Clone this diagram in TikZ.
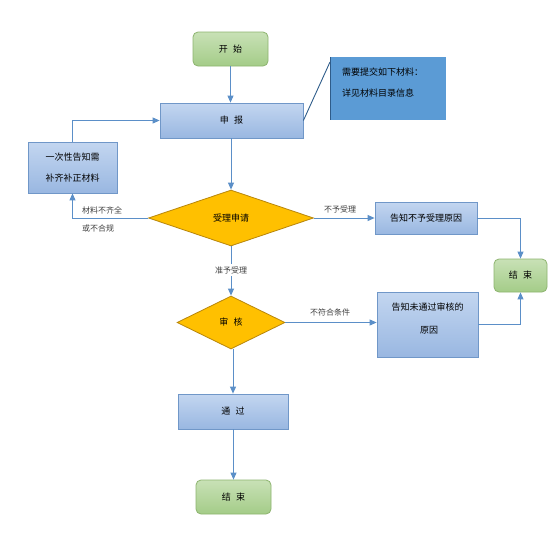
\documentclass[tikz,border=0pt]{standalone}
\usepackage{fontspec}
\setmainfont{Noto Sans CJK SC}
\usetikzlibrary{shapes.geometric,arrows.meta,calc}
\definecolor{bluetop}{HTML}{C3D6F0}
\definecolor{bluebot}{HTML}{99B7E1}
\definecolor{blueedge}{HTML}{7097C8}
\definecolor{greentop}{HTML}{C8E1B6}
\definecolor{greenbot}{HTML}{A4CC88}
\definecolor{greenedge}{HTML}{8DB46F}
\definecolor{gold}{HTML}{FFC000}
\definecolor{goldedge}{HTML}{B8860B}
\definecolor{calloutfill}{HTML}{5B9BD5}
\definecolor{calloutedge}{HTML}{2E5C8A}
\definecolor{arrowc}{HTML}{5B8FC8}
\definecolor{labelc}{HTML}{404040}
\tikzset{
  x=1pt, y=-1pt,
  every node/.style={font=\fontsize{9}{11}\selectfont, inner sep=0pt},
  bluebox/.style={draw=blueedge, line width=0.8pt, top color=bluetop, bottom color=bluebot, align=center},
  greenbox/.style={draw=greenedge, line width=0.8pt, top color=greentop, bottom color=greenbot, rounded corners=5pt, align=center},
  decision/.style={diamond, draw=goldedge, line width=0.8pt, fill=gold, aspect=3},
  flow/.style={draw=arrowc, line width=0.9pt, -{Triangle[length=7pt,width=6pt]}},
  lbl/.style={font=\fontsize{8}{10}\selectfont, text=labelc},
}
\begin{document}
\begin{tikzpicture}
\useasboundingbox (0,0) rectangle (555,544);
\fill[white] (0,0) rectangle (555,544);

\node[greenbox, minimum width=75pt, minimum height=34pt] (start) at (230.5,49) {开\hspace{0.6em}始};
\node[bluebox, minimum width=143pt, minimum height=35pt] (apply) at (231.5,120.5) {申\hspace{0.6em}报};
\node[fill=calloutfill, minimum width=116pt, minimum height=63pt, anchor=north west] (callout) at (330,57) {};
\draw[calloutedge, line width=1pt] (callout.north west) -- (callout.south west);
\node[anchor=west] (ctext1) at (342,72) {需要提交如下材料：};
\node[anchor=west] (ctext2) at (342,93) {详见材料目录信息};
\draw[calloutedge, line width=0.9pt] (apply.east) -- ($(callout.north west)+(0,5)$);

\node[bluebox, minimum width=89pt, minimum height=51pt] (notify) at (72.5,167.5) {};
\node (ntext1) at (72.5,157) {一次性告知需};
\node (ntext2) at (72.5,178) {补齐补正材料};

\node[decision, minimum width=165pt, minimum height=56pt] (accept) at (231,218) {受理申请};
\node[bluebox, minimum width=102pt, minimum height=32pt] (reject) at (426,218) {告知不予受理原因};
\node[greenbox, minimum width=53pt, minimum height=33pt] (end1) at (520.5,275.5) {结\hspace{0.6em}束};

\node[decision, minimum width=108pt, minimum height=53pt] (review) at (231,322.5) {审\hspace{0.6em}核};
\node[bluebox, minimum width=101pt, minimum height=65pt] (fail) at (427.5,324.5) {};
\node (ftext1) at (427.5,307) {告知未通过审核的};
\node (ftext2) at (429,330) {原因};

\node[bluebox, minimum width=110pt, minimum height=35pt] (pass) at (233,411.5) {通\hspace{0.6em}过};
\node[greenbox, minimum width=75pt, minimum height=34pt] (end2) at (233.5,497) {结\hspace{0.6em}束};

\draw[flow] (start) -- (apply.north -| start);
\draw[flow] (apply.south -| accept) -- (accept.north);
\draw[flow] (accept.west) -| (notify.south);
\node[lbl, anchor=west] (l1) at (82,210) {材料不齐全};
\node[lbl, anchor=west] (l2) at (82,228.5) {或不合规};
\draw[flow] (notify.north) |- (apply.west);
\draw[flow] (accept.east) -- (reject.west);
\node[lbl] (l3) at (340,209) {不予受理};
\draw[flow] (reject.east) -| (end1.north);
\draw[flow] (accept.south) -- (review.north);
\node[lbl, fill=white, inner ysep=2pt] (l4) at (231,270) {准予受理};
\draw[flow] (review.east) -- (fail.west |- review.east);
\node[lbl] (l5) at (330,312.5) {不符合条件};
\draw[flow] (fail.east) -| (end1.south);
\draw[flow] (review.south -| pass) -- (pass.north);
\draw[flow] (pass.south -| end2) -- (end2.north);
\end{tikzpicture}
\end{document}
